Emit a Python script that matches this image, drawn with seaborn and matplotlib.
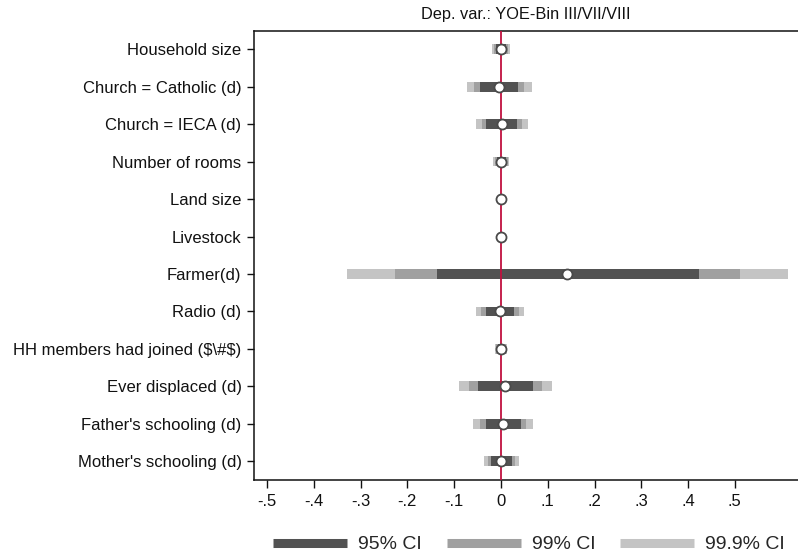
import numpy as np
import pandas as pd
import matplotlib
matplotlib.use("Agg")
import matplotlib.pyplot as plt
from matplotlib.lines import Line2D
import seaborn as sns

# Regressors, top to bottom
variables = [
    "Household size",
    "Church = Catholic (d)",
    "Church = IECA (d)",
    "Number of rooms",
    "Land size",
    "Livestock",
    "Farmer(d)",
    "Radio (d)",
    r"HH members had joined (\$\#\$)",
    "Ever displaced (d)",
    "Father's schooling (d)",
    "Mother's schooling (d)",
]

# Point estimates
coef = [0.000, -0.004, 0.002, 0.001, 0.000, 0.000, 0.142, -0.002, 0.000, 0.009, 0.004, 0.001]

# Confidence bounds: 95%, 99%, 99.9%
lo95 = [-0.011, -0.045, -0.031, -0.008, -0.001, -0.001, -0.137, -0.032, -0.007, -0.050, -0.033, -0.021]
hi95 = [0.011, 0.037, 0.035, 0.010, 0.001, 0.001, 0.423, 0.028, 0.007, 0.069, 0.042, 0.024]
lo99 = [-0.015, -0.058, -0.041, -0.012, -0.002, -0.002, -0.226, -0.042, -0.010, -0.068, -0.045, -0.028]
hi99 = [0.015, 0.050, 0.045, 0.014, 0.002, 0.002, 0.512, 0.038, 0.010, 0.088, 0.054, 0.030]
lo999 = [-0.020, -0.073, -0.053, -0.016, -0.003, -0.003, -0.329, -0.053, -0.013, -0.090, -0.059, -0.036]
hi999 = [0.020, 0.066, 0.057, 0.018, 0.003, 0.003, 0.613, 0.050, 0.013, 0.110, 0.068, 0.038]

ci_labels = ["95% CI", "99% CI", "99.9% CI"]
ci_colors = ["#525252", "#a0a0a0", "#c4c4c4"]

xticks = [-0.5, -0.4, -0.3, -0.2, -0.1, 0.0, 0.1, 0.2, 0.3, 0.4, 0.5]
xtick_labels = ["-.5", "-.4", "-.3", "-.2", "-.1", "0", ".1", ".2", ".3", ".4", ".5"]

df = pd.DataFrame({
    "variable": variables,
    "coef": coef,
    "lo95": lo95, "hi95": hi95,
    "lo99": lo99, "hi99": hi99,
    "lo999": lo999, "hi999": hi999,
})
df["pos"] = np.arange(len(df))

sns.set_theme(style="white")
plt.rcParams["font.family"] = ["Liberation Sans", "DejaVu Sans"]

fig = plt.figure(figsize=(7.98, 5.58), dpi=100)
ax = fig.add_axes([0.3183, 0.1398, 0.6817, 0.8055])

# Widest interval first so narrower ones sit on top
bar_h = 0.26
for (lo, hi), color in zip([("lo999", "hi999"), ("lo99", "hi99"), ("lo95", "hi95")],
                           ci_colors[::-1]):
    ax.barh(df["pos"], df[hi] - df[lo], left=df[lo], height=bar_h,
            color=color, linewidth=0, zorder=2)

ax.axvline(0, color="#c0103f", linewidth=1.3, zorder=3)

sns.scatterplot(data=df, x="coef", y="pos", ax=ax, s=52, color="white",
                edgecolor="#4a4a4a", linewidth=1.3, zorder=4, legend=False)

ax.set_ylim(len(df) - 0.5, -0.5)
ax.set_xlim(-0.528, 0.635)
ax.set_yticks(df["pos"])
ax.set_yticklabels(df["variable"], fontsize=12, color="#111111")
ax.set_xticks(xticks)
ax.set_xticklabels(xtick_labels, fontsize=12, color="#111111")
ax.set_xlabel("")
ax.set_ylabel("")

for side in ["left", "top", "bottom"]:
    ax.spines[side].set_visible(True)
    ax.spines[side].set_color("#111111")
    ax.spines[side].set_linewidth(1.1)
ax.spines["right"].set_visible(False)
ax.tick_params(axis="both", which="both", direction="out", length=5, width=1,
               color="#111111", left=True, bottom=True, pad=4)
ax.tick_params(axis="x", length=6)

ax.set_title("Dep. var.: YOE-Bin III/VII/VIII", fontsize=11.8, color="#111111", pad=8)

handles = [Line2D([0], [0], color=c, linewidth=6.5, solid_capstyle="butt")
           for c in ci_colors]
fig.legend(handles, ci_labels, loc="center", bbox_to_anchor=(0.663, 0.024),
           ncol=3, frameon=False, fontsize=14, handlelength=3.8,
           handletextpad=0.55, columnspacing=1.3)

fig.savefig("out.png", dpi=100)
